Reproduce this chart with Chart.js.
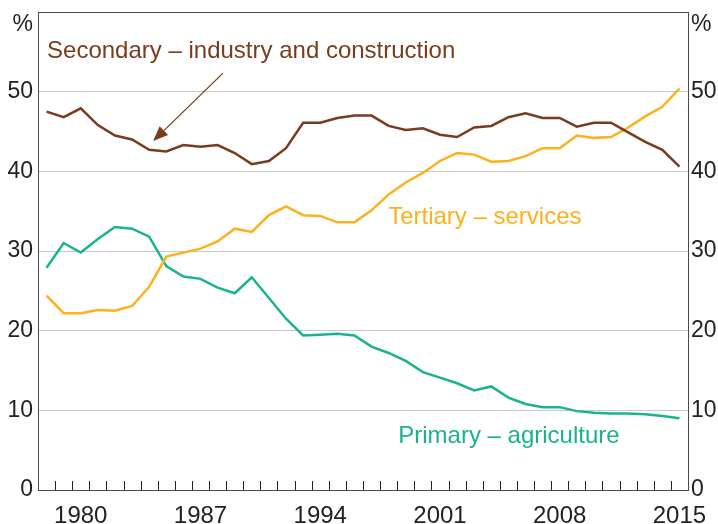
<html>
<head>
<style>
  body { margin: 0; background: #fff; }
  #wrap { width: 718px; height: 524px; }
</style>
<script src="https://cdn.jsdelivr.net/npm/chart.js@4/dist/chart.umd.min.js"></script>
</head>
<body>
<div id="wrap"><canvas id="myChart"></canvas></div>
<script>
var years = [];
for (var y = 1978; y <= 2015; y++) years.push(y);

// shares of GDP, %
var secondary = [47.5, 46.8, 47.9, 45.8, 44.5, 44.0, 42.7, 42.5, 43.3, 43.1,
                 43.3, 42.3, 40.9, 41.3, 42.9, 46.1, 46.1, 46.7, 47.0, 47.0,
                 45.7, 45.2, 45.4, 44.6, 44.3, 45.5, 45.7, 46.8, 47.3, 46.7,
                 46.7, 45.6, 46.1, 46.1, 44.9, 43.7, 42.7, 40.6];
var tertiary = [24.4, 22.2, 22.2, 22.6, 22.5, 23.1, 25.5, 29.3, 29.8, 30.3,
                31.2, 32.8, 32.4, 34.5, 35.6, 34.5, 34.4, 33.6, 33.6, 35.1,
                37.1, 38.6, 39.8, 41.3, 42.3, 42.1, 41.2, 41.3, 41.9, 42.9,
                42.9, 44.5, 44.2, 44.3, 45.5, 46.9, 48.1, 50.4];
var primary = [27.9, 31.0, 29.8, 31.5, 33.0, 32.8, 31.8, 28.1, 26.8, 26.5,
               25.4, 24.7, 26.7, 24.1, 21.5, 19.4, 19.5, 19.6, 19.4, 18.0,
               17.2, 16.2, 14.8, 14.1, 13.4, 12.5, 13.0, 11.6, 10.8, 10.4,
               10.4, 9.9, 9.7, 9.6, 9.6, 9.5, 9.3, 9.0];

var brown = "#7a3b1f";
var yellow = "#fcb11d";
var teal = "#19b48f";
var font = "Liberation Sans, Arial, sans-serif";

var extras = {
    id: "extras",
    afterDraw: function (chart) {
        var ctx = chart.ctx;
        var a = chart.chartArea;
        var xs = chart.scales.x;
        var ys = chart.scales.y;
        ctx.save();

        // small ticks between years, pointing up into the chart
        ctx.strokeStyle = "#222";
        ctx.lineWidth = 1;
        ctx.beginPath();
        for (var i = 1; i < years.length; i++) {
            var px = Math.round((xs.getPixelForValue(i - 1) + xs.getPixelForValue(i)) / 2) + 0.5;
            ctx.moveTo(px, a.bottom);
            ctx.lineTo(px, a.bottom - 9);
        }
        ctx.stroke();

        // frame
        ctx.strokeStyle = "#4a4a4a";
        ctx.strokeRect(Math.round(a.left) + 0.5, Math.round(a.top) + 0.5,
                       Math.round(a.right - a.left), Math.round(a.bottom - a.top));

        // % unit labels
        ctx.fillStyle = "#222";
        ctx.font = "23px " + font;
        ctx.textBaseline = "middle";
        ctx.textAlign = "right";
        ctx.fillText("%", a.left - 5, a.top + 13);
        ctx.textAlign = "left";
        ctx.fillText("%", a.right + 3, a.top + 13);

        // series labels
        ctx.font = "24px " + font;
        ctx.fillStyle = brown;
        ctx.fillText("Secondary \u2013 industry and construction", xs.getPixelForValue(0.03), ys.getPixelForValue(55));
        ctx.fillStyle = yellow;
        ctx.fillText("Tertiary \u2013 services", xs.getPixelForValue(19.97), ys.getPixelForValue(34.2));
        ctx.fillStyle = teal;
        ctx.fillText("Primary \u2013 agriculture", xs.getPixelForValue(20.56), ys.getPixelForValue(6.7));

        // arrow to the secondary line
        var x0 = xs.getPixelForValue(10.3), y0 = ys.getPixelForValue(52.3);
        var x1 = xs.getPixelForValue(6.23), y1 = ys.getPixelForValue(43.8);
        var ang = Math.atan2(y1 - y0, x1 - x0);
        var hl = 15, hw = 6;
        var bx = x1 - hl * Math.cos(ang), by = y1 - hl * Math.sin(ang);
        ctx.strokeStyle = brown;
        ctx.lineWidth = 1.3;
        ctx.beginPath();
        ctx.moveTo(x0, y0);
        ctx.lineTo(bx, by);
        ctx.stroke();
        ctx.fillStyle = brown;
        ctx.beginPath();
        ctx.moveTo(x1, y1);
        ctx.lineTo(bx + hw * Math.sin(ang), by - hw * Math.cos(ang));
        ctx.lineTo(bx - hw * Math.sin(ang), by + hw * Math.cos(ang));
        ctx.closePath();
        ctx.fill();

        ctx.restore();
    }
};

function yTicks(v) {
    return v === 60 ? "" : v;
}

function fitY(w) {
    return function (s) {
        s.width = w;
        s.paddingTop = 0;
        s.paddingBottom = 0;
    };
}

new Chart("myChart", {
    type: "line",
    data: {
        labels: years,
        datasets: [
            { data: secondary, borderColor: brown },
            { data: tertiary, borderColor: yellow },
            { data: primary, borderColor: teal }
        ]
    },
    options: {
        responsive: true,
        maintainAspectRatio: false,
        animation: false,
        layout: { padding: { top: 12 } },
        elements: {
            line: { borderWidth: 2.5, tension: 0, fill: false },
            point: { radius: 0 }
        },
        plugins: { legend: { display: false }, tooltip: { enabled: false } },
        scales: {
            x: {
                offset: true,
                grid: { display: false, drawTicks: false },
                border: { display: false },
                ticks: {
                    autoSkip: false,
                    maxRotation: 0,
                    padding: 12,
                    color: "#222",
                    font: { family: font, size: 24 },
                    callback: function (v, i) {
                        return (years[i] - 1980) % 7 === 0 ? years[i] : "";
                    }
                },
                afterFit: function (s) {
                    s.height = 34;
                    s.paddingLeft = 0;
                    s.paddingRight = 0;
                }
            },
            y: {
                position: "left",
                min: 0, max: 60,
                grid: { color: "#c8c8c8", drawTicks: false },
                border: { display: false },
                ticks: { stepSize: 10, padding: 5, color: "#222", font: { family: font, size: 23 }, callback: yTicks },
                afterFit: fitY(38)
            },
            y2: {
                position: "right",
                min: 0, max: 60,
                grid: { display: false, drawTicks: false },
                border: { display: false },
                ticks: { stepSize: 10, padding: 3, color: "#222", font: { family: font, size: 23 }, callback: yTicks },
                afterFit: fitY(30)
            }
        }
    },
    plugins: [extras]
});
</script>
</body>
</html>
